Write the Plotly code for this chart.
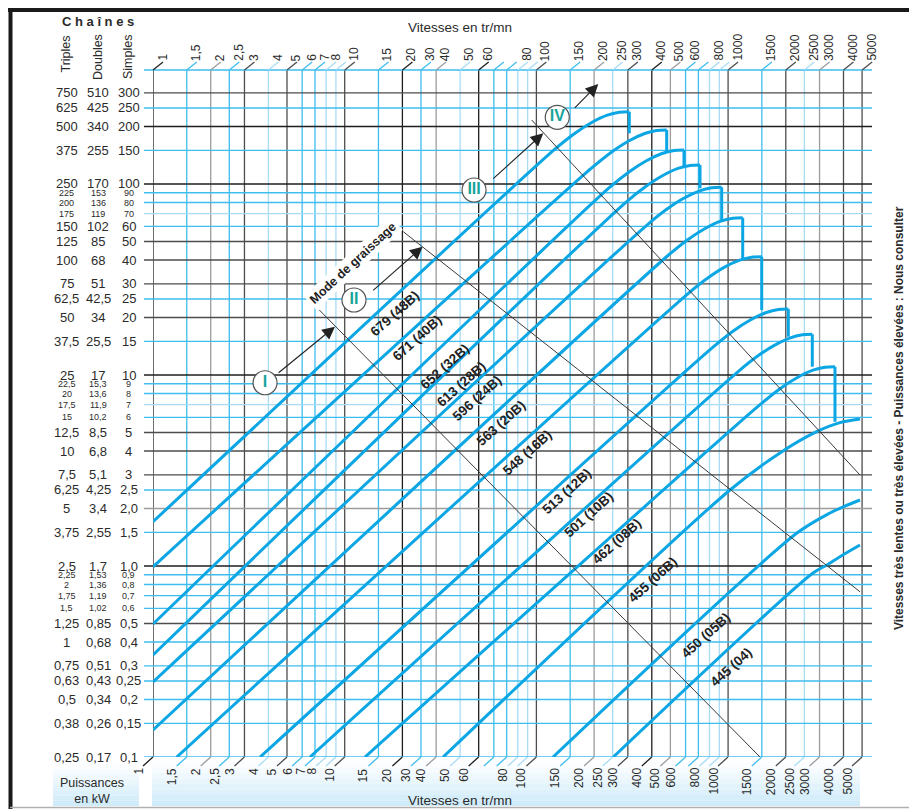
import numpy as np
import plotly.graph_objects as go

# ---------------- data ----------------
# vertical speed grid lines (tr/mn) and their tone
speed_lines = [1, 1.5, 2, 2.5, 3, 4, 5, 6, 7, 8, 9, 10, 15, 20, 25, 30, 40, 50, 60, 70, 80, 90,
               100, 150, 200, 250, 300, 400, 500, 600, 700, 800, 900, 1000, 1500, 2000, 2500,
               3000, 4000, 5000]
speed_tone = ['k', 'b', 'g', 'b', 'd', 'l', 'd', 'b', 'b', 'l', 'l', 'd', 'b', 'k', 'b', 'g', 'l',
              'k', 'b', 'b', 'l', 'l', 'd', 'b', 'g', 'l', 'd', 'k', 'g', 'b', 'b', 'l', 'l', 'd',
              'b', 'd', 'l', 'g', 'd', 'd']
# speed tick labels (line they hang on, text as printed)
speed_label_at = [1, 1.5, 2, 2.5, 3, 4, 5, 6, 7, 8, 10, 15, 20, 25, 30, 40, 50, 80, 100, 150,
                  200, 250, 300, 400, 500, 600, 800, 1000, 1500, 2000, 2500, 3000, 4000, 5000]
speed_label_txt = ["1", "1,5", "2", "2,5", "3", "4", "5", "6", "7", "8", "10", "15", "20", "30",
                   "40", "50", "60", "80", "100", "150", "200", "250", "300", "400", "500", "600",
                   "800", "1000", "1500", "2000", "2500", "3000", "4000", "5000"]

# horizontal power grid lines (kW, simple chain) and tone
power_lines = [300, 250, 200, 150, 100, 90, 80, 70, 60, 50, 40, 30, 25, 20, 15, 10, 9, 8, 7, 6,
               5, 4, 3, 2.5, 2, 1.5, 1, 0.9, 0.8, 0.7, 0.6, 0.5, 0.4, 0.3, 0.25, 0.2, 0.15, 0.1]
power_tone = ['d', 'b', 'k', 'b', 'k', 'b', 'b', 'l', 'b', 'd', 'd', 'd', 'b', 'd', 'b', 'k', 'b',
              'b', 'l', 'b', 'd', 'd', 'd', 'b', 'g', 'b', 'k', 'b', 'b', 'b', 'b', 'd', 'b', 'b',
              'b', 'b', 'b', 'b']
lbl_triples = ["750", "625", "500", "375", "250", "225", "200", "175", "150", "125", "100", "75",
               "62,5", "50", "37,5", "25", "22,5", "20", "17,5", "15", "12,5", "10", "7,5", "6,25",
               "5", "3,75", "2,5", "2,25", "2", "1,75", "1,5", "1,25", "1", "0,75", "0,63", "0,5",
               "0,38", "0,25"]
lbl_doubles = ["510", "425", "340", "255", "170", "153", "136", "119", "102", "85", "68", "51",
               "42,5", "34", "25,5", "17", "15,3", "13,6", "11,9", "10,2", "8,5", "6,8", "5,1",
               "4,25", "3,4", "2,55", "1,7", "1,53", "1,36", "1,19", "1,02", "0,85", "0,68",
               "0,51", "0,43", "0,34", "0,26", "0,17"]
lbl_simples = ["300", "250", "200", "150", "100", "90", "80", "70", "60", "50", "40", "30", "25",
               "20", "15", "10", "9", "8", "7", "6", "5", "4", "3", "2,5", "2,0", "1,5", "1,0",
               "0,9", "0,8", "0,7", "0,6", "0,5", "0,4", "0,3", "0,25", "0,2", "0,15", "0,1"]
small_rows = [90, 80, 70, 9, 8, 7, 6, 0.9, 0.8, 0.7, 0.6]

# chain curves: speed (tr/mn) and power (kW); last point = vertical drop end (if any)
chain_names = ["679 (48B)", "671 (40B)", "652 (32B)", "613 (28B)", "596 (24B)", "563 (20B)",
               "548 (16B)", "513 (12B)", "501 (10B)", "462 (08B)", "455 (06B)", "450 (05B)",
               "445 (04)"]
rpm_48B = [1, 124.0, 157.6, 193.4, 234.4, 270.7, 305.2, 305.2]
kw_48B = [1.705, 151.2, 183.4, 209.4, 229.3, 237.7, 239.1, 184.3]
rpm_40B = [1, 194.3, 247.1, 303.0, 367.3, 424.2, 478.3, 478.3]
kw_40B = [0.99, 121.3, 147.1, 168.0, 183.8, 190.6, 191.8, 147.6]
rpm_32B = [1, 239.2, 304.1, 373.0, 452.0, 522.1, 588.8, 588.8]
kw_32B = [0.497, 95.3, 115.6, 132.0, 144.4, 149.8, 150.7, 124.2]
rpm_28B = [1, 289.9, 368.6, 452.0, 547.8, 632.9, 713.7, 713.7]
kw_28B = [0.342, 79.5, 96.4, 110.1, 120.6, 125.0, 125.8, 94.9]
rpm_24B = [1, 376.2, 478.3, 586.6, 711.1, 821.3, 925.9, 925.9]
kw_24B = [0.247, 60.8, 73.7, 84.2, 92.1, 95.5, 96.1, 63.5]
rpm_20B = [1, 484.1, 615.7, 755.0, 915.0, 1056.8, 1192, 1192]
kw_20B = [0.1385, 42.1, 51.1, 58.3, 63.9, 66.2, 66.6, 40.8]
rpm_16B = [1.33, 608.1, 773.4, 948.6, 1149.7, 1327.7, 1497.5, 1497.5]
kw_16B = [0.1, 26.3, 31.9, 36.5, 39.9, 41.4, 41.6, 21.9]
rpm_12B = [3.62, 837.2, 1064.4, 1305.6, 1582.3, 1827.6, 2061, 2061]
kw_12B = [0.1, 14.02, 17.0, 19.41, 21.24, 22.03, 22.16, 15.87]
rpm_10B = [6.59, 1116.8, 1420, 1741.8, 2111, 2438, 2750, 2750]
kw_10B = [0.1, 10.33, 12.53, 14.30, 15.66, 16.24, 16.34, 11.05]
rpm_08B = [12.76, 1467, 1865, 2287, 2773, 3203, 3611, 3611]
kw_08B = [0.1, 6.99, 8.48, 9.68, 10.60, 10.98, 11.05, 5.69]
rpm_06B = [32.6, 1023, 1865, 2899, 3835, 4876]
kw_06B = [0.1, 2.50, 3.91, 5.05, 5.63, 5.88]
rpm_05B = [122.1, 2279, 3401, 4072, 4876]
kw_05B = [0.1, 1.483, 1.894, 2.061, 2.216]
rpm_04 = [251.8, 2773, 3281, 3835, 4876]
kw_04 = [0.1, 0.919, 1.012, 1.119, 1.288]
chain_rpm = [rpm_48B, rpm_40B, rpm_32B, rpm_28B, rpm_24B, rpm_20B, rpm_16B, rpm_12B, rpm_10B,
             rpm_08B, rpm_06B, rpm_05B, rpm_04]
chain_kw = [kw_48B, kw_40B, kw_32B, kw_28B, kw_24B, kw_20B, kw_16B, kw_12B, kw_10B, kw_08B,
            kw_06B, kw_05B, kw_04]
chain_has_drop = [True] * 10 + [False] * 3
# chain label positions (speed, kW)
label_rpm = [18.3, 23.7, 33.4, 40.3, 48.8, 65.1, 89.7, 143.9, 188.1, 262.4, 407.2, 764.2, 1031.8]
label_kw = [20.9, 15.6, 11.05, 8.97, 7.55, 5.59, 3.94, 2.45, 1.85, 1.34, 0.845, 0.431, 0.295]

# lubrication mode boundaries
mode_rpm = [[7.37, 1467], [20.2, 4876], [94.5, 4876]]
mode_kw = [[21.9, 0.1], [56.3, 0.733], [216.3, 2.995]]
mode_names = ["I", "II", "III", "IV"]
mode_rpm_c = [3.84, 11.18, 47.3, 128.5]
mode_kw_c = [9.11, 24.7, 93.0, 223.5]
arrow_tail_rpm = [4.44, 13.83, 58.5, 155.8]
arrow_tail_kw = [10.12, 27.3, 104.9, 246.1]
arrow_tip_rpm = [8.90, 25.5, 108.6, 210.3]
arrow_tip_kw = [17.9, 46.96, 184.3, 333.9]

# ---------------- styling ----------------
FONT = "Liberation Sans Narrow, Arial Narrow, Liberation Sans, Arial, sans-serif"
TXT = "#2b2b2b"
TONE = {'k': '#1e1e1e', 'd': '#4d4d4d', 'g': '#9c9c9c', 'b': '#3fbdee', 'l': '#a8dcf5'}
CURVE = '#0ba6e3'

W, H = 909, 809
ML, MR, MT, MB = 153, 37, 70, 52
PW, PH = W - ML - MR, H - MT - MB
XR = [0, np.log10(5633)]
YR = [-1, np.log10(395.2)]


def pxx(px):
    return (px - ML) / PW


def pxy(py):
    return (H - MB - py) / PH


fig = go.Figure()
shapes = []
ann = []


def band(x0, x1, y0, y1, n=8):
    for i in range(n):
        t = (i + 0.5) / n
        r = int(255 - t * (255 - 205))
        g = int(255 - t * (255 - 235))
        b = int(255 - t * (255 - 250))
        ya = y0 + (y1 - y0) * i / n
        yb = y0 + (y1 - y0) * (i + 1) / n
        shapes.append(dict(type='rect', xref='paper', yref='paper', x0=pxx(x0), x1=pxx(x1),
                           y0=pxy(ya), y1=pxy(yb), line=dict(width=0),
                           fillcolor=f'rgb({r},{g},{b})', layer='below'))


band(152, 860, 762, 806)
band(53, 139, 764, 806)

# frame lines
shapes.append(dict(type='line', xref='paper', yref='paper', x0=pxx(8), x1=pxx(909),
                   y0=pxy(10), y1=pxy(10), line=dict(color='#1a1a1a', width=4)))
shapes.append(dict(type='line', xref='paper', yref='paper', x0=pxx(10.5), x1=pxx(10.5),
                   y0=pxy(8), y1=pxy(809), line=dict(color='#1a1a1a', width=4)))
shapes.append(dict(type='line', xref='paper', yref='paper', x0=pxx(10), x1=pxx(909),
                   y0=pxy(807.5), y1=pxy(807.5), line=dict(color='#b0b0b0', width=1.5)))

# vertical grid + hooks
for v, t in zip(speed_lines, speed_tone):
    c = TONE[t]
    shapes.append(dict(type='line', xref='x', yref='paper', x0=v, x1=v, y0=0, y1=1,
                       line=dict(color=c, width=1.3), layer='below'))
    frac = (np.log10(v) - XR[0]) / (XR[1] - XR[0])
    shapes.append(dict(type='line', xref='paper', yref='paper', xsizemode='pixel',
                       ysizemode='pixel', xanchor=frac, yanchor=1, x0=0, x1=10, y0=0, y1=8,
                       line=dict(color=c, width=1.3)))
    shapes.append(dict(type='line', xref='paper', yref='paper', xsizemode='pixel',
                       ysizemode='pixel', xanchor=frac, yanchor=0, x0=0, x1=-10, y0=0, y1=-9,
                       line=dict(color=c, width=1.3)))

# horizontal grid
for v, t in zip(power_lines, power_tone):
    shapes.append(dict(type='line', xref='paper', yref='y', x0=-9 / PW, x1=1, y0=v, y1=v,
                       line=dict(color=TONE[t], width=1.3), layer='below'))
shapes.append(dict(type='line', xref='paper', yref='paper', x0=-9 / PW, x1=1, y0=1, y1=1,
                   line=dict(color=TONE['b'], width=1.3), layer='below'))

# speed tick labels
for v, s in zip(speed_label_at, speed_label_txt):
    ann.append(dict(x=np.log10(v), xref='x', y=1, yref='paper', text=s, showarrow=False,
                    textangle=-90, xanchor='center', yanchor='bottom', xshift=9, yshift=8,
                    borderpad=0, font=dict(family=FONT, size=12, color=TXT)))
    ann.append(dict(x=np.log10(v), xref='x', y=0, yref='paper', text=s, showarrow=False,
                    textangle=-90, xanchor='center', yanchor='top', xshift=-15, yshift=-10,
                    borderpad=0, font=dict(family=FONT, size=12, color=TXT)))

# power tick labels (three columns)
for v, a, b, c in zip(power_lines, lbl_triples, lbl_doubles, lbl_simples):
    fs = 9 if v in small_rows else 13
    for s, xc in ((a, 66.5), (b, 98), (c, 128.5)):
        ann.append(dict(x=pxx(xc), xref='paper', y=np.log10(v), yref='y', text=s,
                        showarrow=False, xanchor='center', yanchor='middle', borderpad=0,
                        font=dict(family=FONT, size=fs, color=TXT)))


def txt(s, px, py, size, angle=0):
    ann.append(dict(x=pxx(px), y=pxy(py), xref='paper', yref='paper', text=s, showarrow=False,
                    xanchor='center', yanchor='middle', textangle=angle, borderpad=0,
                    font=dict(family=FONT, size=size, color=TXT)))


# headers & titles
txt("<b>C h a î n e s</b>", 97.5, 21, 13)
txt("Triples", 66, 54.5, 12.5, -90)
txt("Doubles", 97.5, 57.5, 12.5, -90)
txt("Simples", 128, 57, 12.5, -90)
txt("Vitesses en tr/mn", 460, 27, 13.5)
txt("Vitesses en tr/mn", 460, 800, 13.5)
txt("Puissances<br>en kW", 92, 791, 12.5)
txt("<b>Vitesses très lentes ou très élevées - Puissances élevées : Nous consulter</b>",
    899, 418, 12, -90)

# chain curves (smooth rising part + straight vertical drop)
for r, k, n, dr in zip(chain_rpm, chain_kw, chain_names, chain_has_drop):
    rr, kk = (r[:-1], k[:-1]) if dr else (r, k)
    fig.add_trace(go.Scatter(x=rr, y=kk, mode='lines', name=n, hoverinfo='skip',
                             line=dict(color=CURVE, width=3, shape='spline', smoothing=0.8)))
    if dr:
        fig.add_trace(go.Scatter(x=r[-2:], y=k[-2:], mode='lines', hoverinfo='skip',
                                 line=dict(color=CURVE, width=3)))

# lubrication boundaries
for r, k in zip(mode_rpm, mode_kw):
    fig.add_trace(go.Scatter(x=r, y=k, mode='lines', hoverinfo='skip',
                             line=dict(color='#3a3a3a', width=1)))

# chain labels
for r, k, n in zip(label_rpm, label_kw, chain_names):
    ann.append(dict(x=np.log10(r), y=np.log10(k), xref='x', yref='y', text="<b>" + n + "</b>",
                    showarrow=False, textangle=-42, font=dict(family=FONT, size=13.5, color='#222')))

# mode de graissage label
ann.append(dict(x=np.log10(11.09), y=np.log10(38.4), xref='x', yref='y',
                text="<b>Mode de graissage</b>", showarrow=False, textangle=-43, bgcolor='white',
                borderpad=2, font=dict(family=FONT, size=12.5, color='#222')))

# arrows
for tr, tk, hr, hk in zip(arrow_tail_rpm, arrow_tail_kw, arrow_tip_rpm, arrow_tip_kw):
    ann.append(dict(x=np.log10(hr), y=np.log10(hk), xref='x', yref='y', axref='x', ayref='y',
                    ax=np.log10(tr), ay=np.log10(tk), text='', showarrow=True, arrowhead=2,
                    arrowsize=2.3, arrowwidth=1.1, arrowcolor='#222'))

# roman numeral circles
fig.add_trace(go.Scatter(x=mode_rpm_c, y=mode_kw_c, mode='markers+text',
                         text=["<b>" + m + "</b>" for m in mode_names],
                         textposition='middle center', hoverinfo='skip', cliponaxis=False,
                         textfont=dict(family=FONT, size=16, color='#17a39a'),
                         marker=dict(size=24, color='white', line=dict(color='#555', width=1.2))))

fig.update_layout(
    width=W, height=H, autosize=False, showlegend=False,
    margin=dict(l=ML, r=MR, t=MT, b=MB, pad=0),
    paper_bgcolor='white', plot_bgcolor='rgba(0,0,0,0)',
    xaxis=dict(type='log', range=XR, showgrid=False, zeroline=False, showticklabels=False,
               ticks='', showline=False, fixedrange=True),
    yaxis=dict(type='log', range=YR, showgrid=False, zeroline=False, showticklabels=False,
               ticks='', showline=False, fixedrange=True),
    shapes=shapes, annotations=ann, hovermode=False,
)

fig.write_html("out.html", config={'displayModeBar': False},
               post_script="document.body.style.margin='0';")
